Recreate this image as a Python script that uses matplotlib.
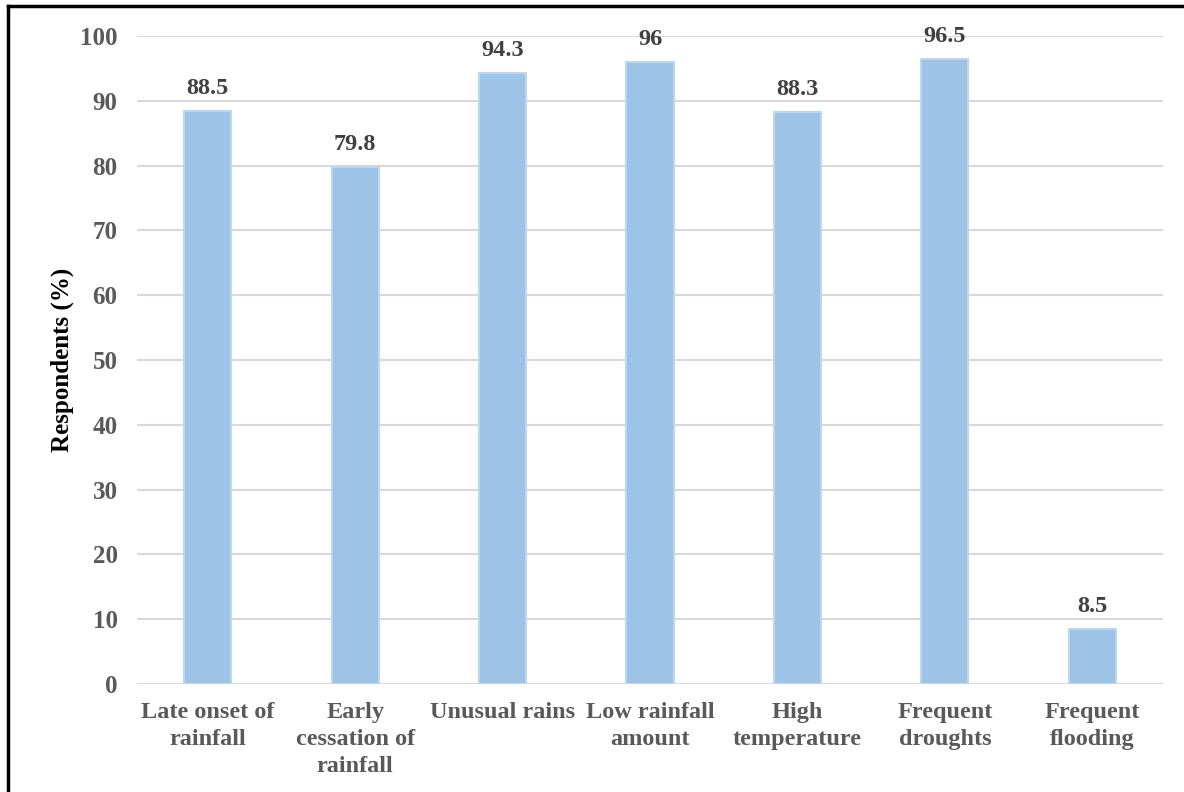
import matplotlib.pyplot as plt
from matplotlib.lines import Line2D

categories = ['Late onset of\nrainfall', 'Early\ncessation of\nrainfall', 'Unusual rains',
              'Low rainfall\namount', 'High\ntemperature', 'Frequent\ndroughts',
              'Frequent\nflooding']
values = [88.5, 79.8, 94.3, 96, 88.3, 96.5, 8.5]
value_labels = ['88.5', '79.8', '94.3', '96', '88.3', '96.5', '8.5']
yticks = [0, 10, 20, 30, 40, 50, 60, 70, 80, 90, 100]

plt.rcParams['font.family'] = ['Liberation Serif', 'DejaVu Serif']
plt.rcParams['font.weight'] = 'bold'

fig = plt.figure(figsize=(11.84, 7.92), dpi=100)
ax = fig.add_axes([0.1157, 0.1364, 0.8666, 0.8181])

x = list(range(len(categories)))
ax.bar(x, values, width=0.32, color='#9DC3E6', edgecolor='#BDD7EE', linewidth=1.5, zorder=3)

for xi, v, lab in zip(x, values, value_labels):
    ax.text(xi, v + 1.8, lab, ha='center', va='bottom', fontsize=17.5,
            fontweight='bold', color='#404040')

ax.set_xlim(-0.48, len(categories) - 0.52)
ax.set_ylim(0, 100)
ax.set_yticks(yticks)
ax.set_xticks(x)
ax.set_xticklabels(categories, fontsize=17.5, fontweight='bold', color='#595959',
                   linespacing=1.38)
ax.tick_params(axis='y', labelsize=18, labelcolor='#595959', length=0, pad=14)
ax.tick_params(axis='x', length=0, pad=13)
for lab in ax.get_yticklabels():
    lab.set_fontweight('bold')

ax.grid(axis='y', color='#D9D9D9', linewidth=1.5, zorder=0)
ax.set_axisbelow(True)
for s in ax.spines.values():
    s.set_visible(False)

ax.set_ylabel('Respondents (%)', fontsize=18, fontweight='bold', color='black', labelpad=4)

# outer frame: top and left only
fig.add_artist(Line2D([8 / 1184, 1.0], [1 - 6 / 792, 1 - 6 / 792], color='black', lw=2.5,
                      transform=fig.transFigure))
fig.add_artist(Line2D([8 / 1184, 8 / 1184], [0, 1 - 6 / 792], color='black', lw=2.5,
                      transform=fig.transFigure))

fig.savefig('out.png', dpi=100)
